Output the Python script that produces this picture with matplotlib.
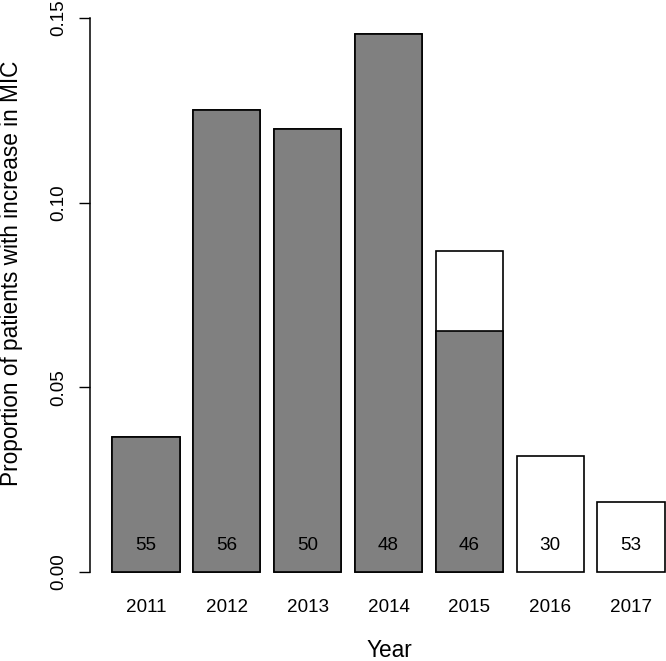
import numpy as np
import matplotlib.pyplot as plt

plt.rcParams['font.family'] = ['Liberation Sans', 'DejaVu Sans']

# data
years = ['2011', '2012', '2013', '2014', '2015', '2016', '2017']
grey_vals = [0.0364, 0.125, 0.120, 0.1458, 0.0652, 0.0, 0.0]   # filled part
total_vals = [0.0364, 0.125, 0.120, 0.1458, 0.0870, 0.0315, 0.0189]  # incl. white part
counts = [55, 56, 50, 48, 46, 30, 53]

W, H = 666, 661
fig = plt.figure(figsize=(W / 100, H / 100), dpi=100)
# plot region in pixels (R style barplot, slightly cropped on the right/top)
left, right, top, bottom = 90, 687, -4, 594
ax = fig.add_axes([left / W, (H - bottom) / H, (right - left) / W, (bottom - top) / H])

# R barplot positions: width 1, space 0.2
x = 0.7 + 1.2 * np.arange(len(years))
ax.bar(x, total_vals, width=1.0, color='white', edgecolor='black', linewidth=1.2, zorder=2)
has_grey = np.array(grey_vals) > 0
ax.bar(x[has_grey], np.array(grey_vals)[has_grey], width=1.0, color='#808080',
       edgecolor='black', linewidth=1.2, zorder=3)

for xi, n in zip(x, counts):
    ax.text(xi, 0.0072, str(n), ha='center', va='center', fontsize=13.6, color='black', zorder=4)

ax.set_xlim(-0.128, 8.728)
ax.set_ylim(-0.006, 0.156)

for s in ['top', 'right', 'bottom']:
    ax.spines[s].set_visible(False)
ax.spines['left'].set_bounds(0, 0.15)
ax.spines['left'].set_linewidth(1.1)

ax.set_yticks([0, 0.05, 0.10, 0.15])
ax.set_yticklabels(['0.00', '0.05', '0.10', '0.15'], rotation=90, va='center')
ax.tick_params(axis='y', length=7.9, width=1.0, pad=8.6, labelsize=13.6, colors='black')

ax.set_xticks(x)
ax.set_xticklabels(years)
ax.tick_params(axis='x', length=0, pad=3.6, labelsize=13.6)

fig.text(11.5 / W, 1 - 273 / H, 'Proportion of patients with increase in MIC',
         rotation=90, ha='center', va='center', fontsize=16.3)
fig.text(389 / W, 1 - 657 / H, 'Year', ha='center', va='baseline', fontsize=16.3)

plt.savefig('out.png', dpi=100)
